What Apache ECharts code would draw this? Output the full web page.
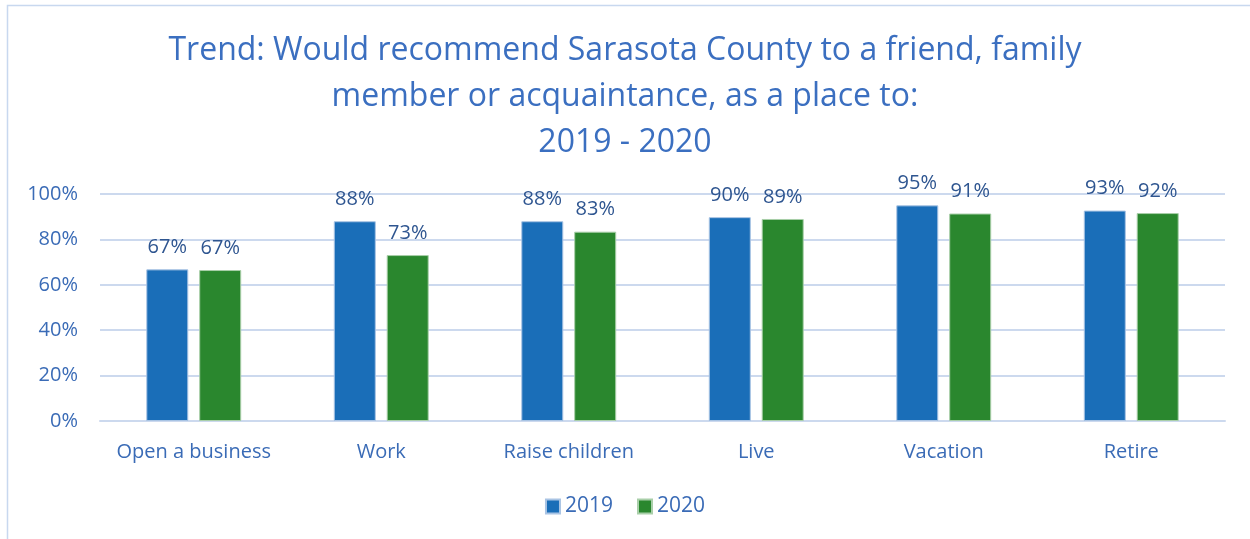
<!DOCTYPE html>
<html><head><meta charset="utf-8">
<script src="https://cdn.jsdelivr.net/npm/echarts@6/dist/echarts.min.js"></script>
<style>html,body{margin:0;padding:0;background:#fff}#c{width:1250px;height:539px}</style>
</head><body><div id="c"></div>
<script>
const categories = ['Open a business', 'Work', 'Raise children', 'Live', 'Vacation', 'Retire'];
const values2019 = [66.8, 88.0, 88.0, 89.8, 95.0, 92.7];
const values2020 = [66.5, 73.1, 83.4, 89.0, 91.4, 91.6];
const seriesNames = ['2019', '2020'];
const yTicks = [0, 20, 40, 60, 80, 100];
const titleText = 'Trend: Would recommend Sarasota County to a friend, family\nmember or acquaintance, as a place to:\n2019 - 2020';

const chart = echarts.init(document.getElementById('c'));
const axisColor = '#3a6bb6';
const labelColor = '#2e5590';
const font = 'Open Sans';
chart.setOption({
  animation: false,
  graphic: [{type: 'rect', shape: {x: 7.5, y: 5.5, width: 1400, height: 700}, style: {fill: 'none', stroke: '#c8d8ef', lineWidth: 1.5}, silent: true}],
  title: {text: titleText, left: 'center', top: 23,
    textStyle: {fontFamily: font, fontSize: 32, fontWeight: 'normal', color: '#3b6fc0', lineHeight: 46}},
  legend: {data: seriesNames, bottom: 17, left: 'center', itemWidth: 14, itemHeight: 14, itemGap: 24,
    icon: 'rect', textStyle: {fontFamily: font, fontSize: 21, color: axisColor}},
  grid: {left: 100, right: 25, top: 194, bottom: 118, containLabel: false},
  xAxis: {type: 'category', data: categories,
    axisLine: {show: true, lineStyle: {color: '#ccd9ee', width: 2}}, axisTick: {show: false},
    axisLabel: {interval: 0, fontFamily: font, fontSize: 20, color: axisColor, margin: 21}},
  yAxis: {type: 'value', min: 0, max: 100, interval: 20,
    axisLine: {show: false}, axisTick: {show: false},
    splitLine: {lineStyle: {color: '#ccd9ee', width: 2}},
    axisLabel: {fontFamily: font, fontSize: 20, color: axisColor, margin: 22, formatter: v => v + '%'}},
  series: [
    {name: seriesNames[0], type: 'bar', data: values2019, barWidth: 42, barGap: '26%',
     itemStyle: {color: '#1a6eb8', borderColor: '#a9c4e4', borderWidth: 1},
     label: {show: true, position: 'top', distance: 12, fontFamily: font, fontSize: 20, color: labelColor,
       formatter: p => Math.round(p.value) + '%'}},
    {name: seriesNames[1], type: 'bar', data: values2020, barWidth: 42,
     itemStyle: {color: '#2a872e', borderColor: '#a9cfa9', borderWidth: 1},
     label: {show: true, position: 'top', distance: 12, fontFamily: font, fontSize: 20, color: labelColor,
       formatter: p => Math.round(p.value) + '%'}}
  ]
});
</script></body></html>
